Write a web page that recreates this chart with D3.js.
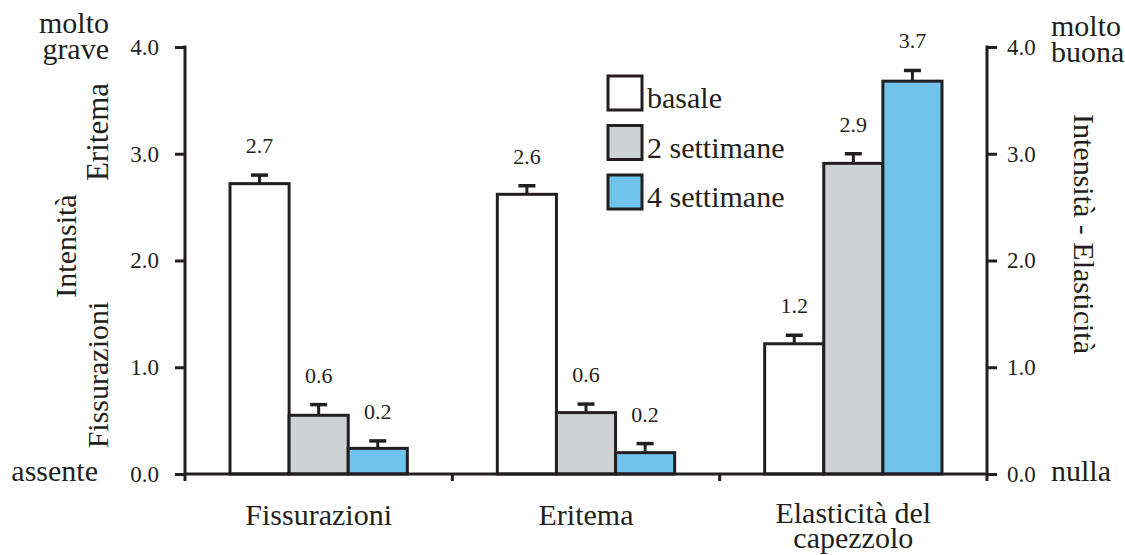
<!DOCTYPE html>
<html>
<head>
<meta charset="utf-8">
<script src="https://cdn.jsdelivr.net/npm/d3@7"></script>
<style>
  body { margin: 0; background: #fff; }
  svg text { font-family: "Liberation Serif", "Times New Roman", serif; fill: #231f20; }
</style>
</head>
<body>
<div id="chart"></div>
<script>
// Data
const categories = ["Fissurazioni", "Eritema", "Elasticità del capezzolo"];
const series = ["basale", "2 settimane", "4 settimane"];
const basale = [2.72, 2.62, 1.22];
const settimane2 = [0.55, 0.575, 2.91];
const settimane4 = [0.24, 0.20, 3.68];
const errBasale = [0.08, 0.08, 0.08];
const errSettimane2 = [0.10, 0.08, 0.09];
const errSettimane4 = [0.07, 0.085, 0.10];
const labelsBasale = ["2.7", "2.6", "1.2"];
const labelsSettimane2 = ["0.6", "0.6", "2.9"];
const labelsSettimane4 = ["0.2", "0.2", "3.7"];
const yTicks = [0, 1, 2, 3, 4];

const values = [basale, settimane2, settimane4];
const errors = [errBasale, errSettimane2, errSettimane4];
const labels = [labelsBasale, labelsSettimane2, labelsSettimane4];
const colors = ["#ffffff", "#cfd2d4", "#70c3ed"];
const ink = "#231f20";

const width = 1125, height = 555;
const plot = { left: 185, right: 987, top: 47, bottom: 474 };

const svg = d3.select("#chart").append("svg")
    .attr("width", width)
    .attr("height", height);

// Scales
const xScale = d3.scaleBand()
    .domain(categories)
    .range([plot.left, plot.right])
    .padding(0);

const xSub = d3.scaleBand()
    .domain(series)
    .range([45, xScale.bandwidth() - 45])
    .padding(0);

const yScale = d3.scaleLinear()
    .domain([0, 4])
    .range([plot.bottom, plot.top]);

// Flatten into rows for drawing
const rows = [];
categories.forEach((c, i) => {
    series.forEach((s, j) => {
        rows.push({ cat: c, ser: s, j: j, v: values[j][i], e: errors[j][i], label: labels[j][i] });
    });
});

const cx = d => xScale(d.cat) + xSub(d.ser) + xSub.bandwidth() / 2;

// Error bars (up only)
svg.selectAll(".err").data(rows).enter().append("line")
    .attr("x1", cx).attr("x2", cx)
    .attr("y1", d => yScale(d.v))
    .attr("y2", d => yScale(d.v + d.e))
    .attr("stroke", ink).attr("stroke-width", 3);

svg.selectAll(".cap").data(rows).enter().append("line")
    .attr("x1", d => cx(d) - 8.5).attr("x2", d => cx(d) + 8.5)
    .attr("y1", d => yScale(d.v + d.e))
    .attr("y2", d => yScale(d.v + d.e))
    .attr("stroke", ink).attr("stroke-width", 3.5);

// Bars
svg.selectAll(".bar").data(rows).enter().append("rect")
    .attr("x", d => xScale(d.cat) + xSub(d.ser))
    .attr("y", d => yScale(d.v))
    .attr("width", xSub.bandwidth())
    .attr("height", d => yScale(0) - yScale(d.v))
    .attr("fill", d => colors[d.j])
    .attr("stroke", ink)
    .attr("stroke-width", 3);

// Value labels
svg.selectAll(".val").data(rows).enter().append("text")
    .attr("x", cx)
    .attr("y", d => yScale(d.v + d.e) - 22)
    .attr("text-anchor", "middle")
    .attr("font-size", 22)
    .text(d => d.label);

// Left axis
const leftAxis = svg.append("g")
    .attr("transform", `translate(${plot.left},0)`)
    .call(d3.axisLeft(yScale).tickValues(yTicks).tickFormat(d3.format(".1f"))
        .tickSize(10).tickSizeOuter(0).tickPadding(16));

// Right axis
const rightAxis = svg.append("g")
    .attr("transform", `translate(${plot.right},0)`)
    .call(d3.axisRight(yScale).tickValues(yTicks).tickFormat(d3.format(".1f"))
        .tickSize(10).tickSizeOuter(0).tickPadding(10));

[leftAxis, rightAxis].forEach(g => {
    g.select(".domain").remove();
    g.selectAll(".tick line").attr("stroke", ink).attr("stroke-width", 3);
    g.selectAll(".tick text")
        .attr("font-size", 23)
        .attr("font-family", "Liberation Serif, Times New Roman, serif")
        .attr("fill", ink);
    g.append("line")
        .attr("x1", 0).attr("x2", 0)
        .attr("y1", yScale(4) - 1.5).attr("y2", yScale(0) + 7)
        .attr("stroke", ink).attr("stroke-width", 3);
});

// X axis baseline and separator ticks
svg.append("line")
    .attr("x1", plot.left).attr("x2", plot.right)
    .attr("y1", yScale(0)).attr("y2", yScale(0))
    .attr("stroke", ink).attr("stroke-width", 3);

svg.selectAll(".sep").data(categories.slice(1)).enter().append("line")
    .attr("x1", d => xScale(d)).attr("x2", d => xScale(d))
    .attr("y1", yScale(0)).attr("y2", yScale(0) + 7)
    .attr("stroke", ink).attr("stroke-width", 3);

// Category labels
const catText = svg.selectAll(".cat").data(categories).enter().append("text")
    .attr("x", d => xScale(d) + xScale.bandwidth() / 2)
    .attr("y", 525)
    .attr("text-anchor", "middle")
    .attr("font-size", 30);
catText.each(function(d) {
    const t = d3.select(this);
    if (d === "Elasticità del capezzolo") {
        t.append("tspan").attr("x", xScale(d) + xScale.bandwidth() / 2).attr("y", 523).text("Elasticità del");
        t.append("tspan").attr("x", xScale(d) + xScale.bandwidth() / 2).attr("y", 548).text("capezzolo");
    } else {
        t.text(d);
    }
});

// Legend
const legend = svg.append("g").attr("transform", "translate(608,76)");
series.forEach((s, j) => {
    legend.append("rect")
        .attr("x", 0).attr("y", j * 49.5)
        .attr("width", 34).attr("height", 34)
        .attr("fill", colors[j])
        .attr("stroke", ink).attr("stroke-width", 3);
    legend.append("text")
        .attr("x", 39).attr("y", j * 49.5 + 32)
        .attr("font-size", 30)
        .text(s);
});

// Left side annotations
svg.append("text").attr("x", 109).attr("y", 33).attr("text-anchor", "end").attr("font-size", 30).text("molto");
svg.append("text").attr("x", 109).attr("y", 59).attr("text-anchor", "end").attr("font-size", 30).text("grave");
svg.append("text").attr("x", 98).attr("y", 481).attr("text-anchor", "end").attr("font-size", 30).text("assente");

svg.append("text")
    .attr("transform", "translate(76,246) rotate(-90)")
    .attr("text-anchor", "middle").attr("font-size", 30).text("Intensità");
svg.append("text")
    .attr("transform", "translate(108,132) rotate(-90)")
    .attr("text-anchor", "middle").attr("font-size", 31).text("Eritema");
svg.append("text")
    .attr("transform", "translate(108,375) rotate(-90)")
    .attr("text-anchor", "middle").attr("font-size", 30)
    .text("Fissurazioni");

// Right side annotations
svg.append("text").attr("x", 1051).attr("y", 36).attr("font-size", 30).text("molto");
svg.append("text").attr("x", 1051).attr("y", 62).attr("font-size", 30).text("buona");
svg.append("text").attr("x", 1051).attr("y", 481).attr("font-size", 30).text("nulla");

svg.append("text")
    .attr("transform", "translate(1074,234) rotate(90)")
    .attr("text-anchor", "middle").attr("font-size", 30).text("Intensità - Elasticità");
</script>
</body>
</html>
